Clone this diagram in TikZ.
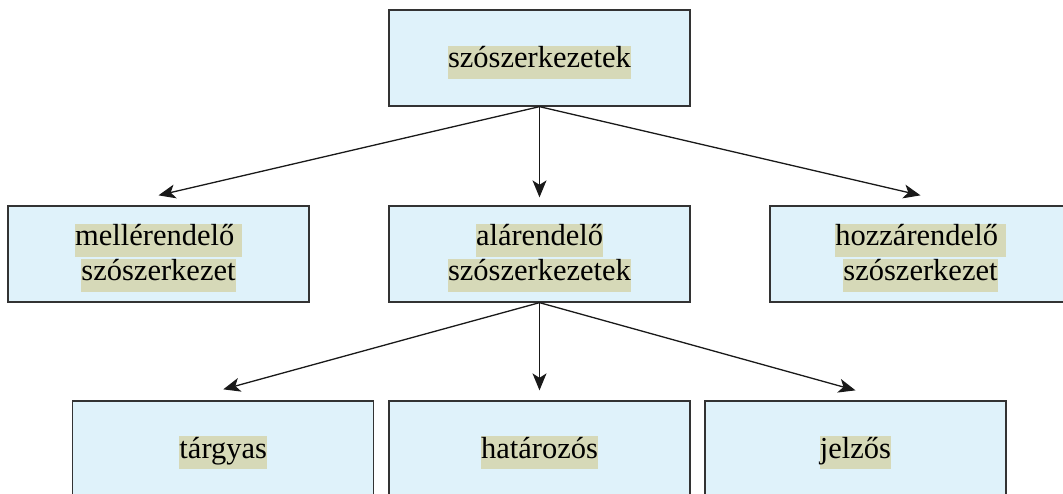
\documentclass[tikz,border=0pt]{standalone}
\usepackage{fontspec}
\setmainfont{Liberation Serif}
\usetikzlibrary{arrows.meta}
\definecolor{boxfill}{HTML}{DFF2FA}
\definecolor{hlcol}{HTML}{D6D9B8}
\definecolor{edgecol}{HTML}{333333}
\newcommand\hlword[1]{{\setlength\fboxsep{0pt}\colorbox{hlcol}{\rule[-11pt]{0pt}{33pt}#1}}}
\begin{document}
\begin{tikzpicture}[x=1pt,y=-1pt,
  box/.style={draw=edgecol,line width=1.3pt,fill=boxfill,minimum width=301pt,minimum height=96pt,inner sep=0pt},
  txt/.style={inner sep=0pt,align=center,font=\fontsize{30.5}{35}\selectfont},
  arr/.style={line width=1.3pt,draw=black!90,-{Stealth[length=17pt,width=14pt,inset=4.5pt]}}]
\useasboundingbox (0,0) rectangle (1063,493);
\clip (0,0) rectangle (1063,493);
% boxes
\node[box] (top) at (539.5,58) {};
\node[box] (mel) at (158.5,254) {};
\node[box] (ala) at (539.5,254) {};
\node[box] (hoz) at (920.5,254) {};
\node[box] (tar) at (223.25,449) {};
\node[box] (hat) at (539.5,449) {};
\node[box] (jel) at (855.5,449) {};
% texts
\node[txt] (ttop) at ([yshift=-4pt]top.center) {\hlword{szószerkezetek}};
\node[txt] (tmel) at ([yshift=-3.5pt]mel.center) {\hlword{mellérendelő\ }\\\hlword{szószerkezet}};
\node[txt] (tala) at ([yshift=-3.5pt]ala.center) {\hlword{alárendelő}\\\hlword{szószerkezetek}};
\node[txt] (thoz) at ([yshift=-3.5pt]hoz.center) {\hlword{hozzárendelő\ }\\\hlword{szószerkezet}};
\node[txt] (ttar) at (tar.center |- 0,452.5) {\hlword{tárgyas}};
\node[txt] (that) at (hat.center |- 0,452.5) {\hlword{határozós}};
\node[txt] (tjel) at (jel.center |- 0,452.5) {\hlword{jelzős}};
% arrows
\draw[arr] (top.south) -- ([yshift=10pt]mel.north);
\draw[arr] (top.south) -- ([yshift=8pt]ala.north);
\draw[arr] (top.south) -- ([yshift=10pt]hoz.north);
\draw[arr] (ala.south) -- ([yshift=11pt]tar.north);
\draw[arr] (ala.south) -- ([yshift=10pt]hat.north);
\draw[arr] (ala.south) -- ([yshift=10pt]jel.north);
\end{tikzpicture}
\end{document}
